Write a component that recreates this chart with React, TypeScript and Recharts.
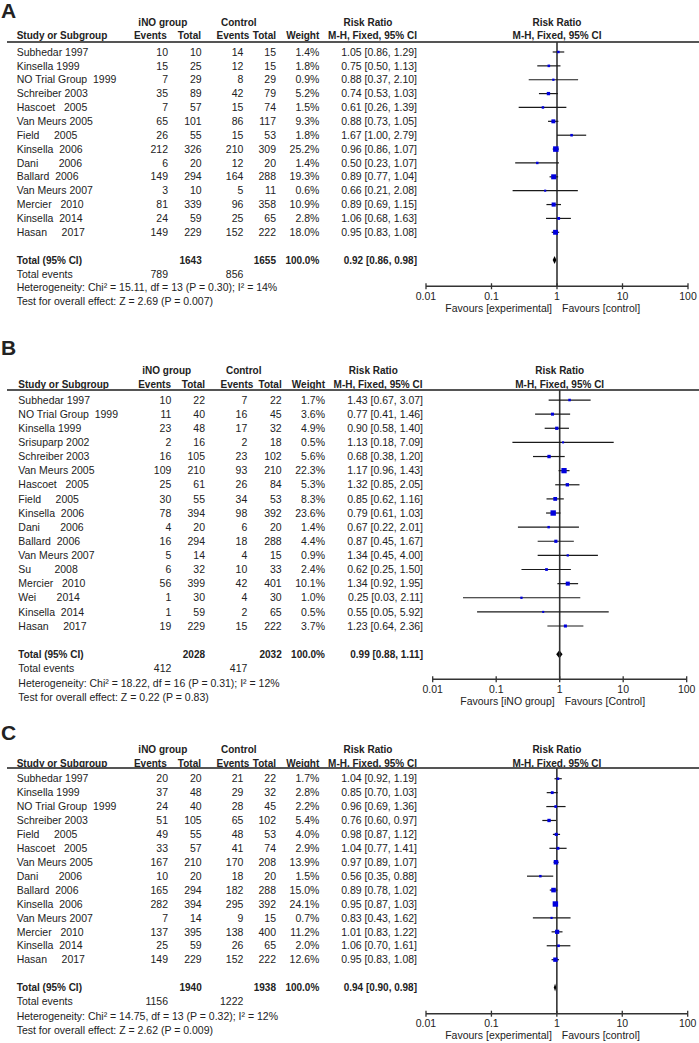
import React from "react";
import { ScatterChart, Scatter, XAxis, YAxis, ReferenceLine, ReferenceArea } from "recharts";

const axisTicks = [0.01, 0.1, 1, 10, 100];

// ---- panel A
const studiesA = ["Subhedar 1997", "Kinsella 1999", "NO Trial Group  1999", "Schreiber 2003", "Hascoet   2005", "Van Meurs 2005", "Field     2005", "Kinsella  2006", "Dani       2006", "Ballard  2006", "Van Meurs 2007", "Mercier   2010", "Kinsella  2014", "Hasan     2017"];
const inoEventsA = [10, 15, 7, 35, 7, 65, 26, 212, 6, 149, 3, 81, 24, 149];
const inoTotalA = [10, 25, 29, 89, 57, 101, 55, 326, 20, 294, 10, 339, 59, 229];
const ctrlEventsA = [14, 12, 8, 42, 15, 86, 15, 210, 12, 164, 5, 96, 25, 152];
const ctrlTotalA = [15, 15, 29, 79, 74, 117, 53, 309, 20, 288, 11, 358, 65, 222];
const weightA = [1.4, 1.8, 0.9, 5.2, 1.5, 9.3, 1.8, 25.2, 1.4, 19.3, 0.6, 10.9, 2.8, 18.0];
const rrA = [1.05, 0.75, 0.88, 0.74, 0.61, 0.88, 1.67, 0.96, 0.5, 0.89, 0.66, 0.89, 1.06, 0.95];
const loA = [0.86, 0.5, 0.37, 0.53, 0.26, 0.73, 1.0, 0.86, 0.23, 0.77, 0.21, 0.69, 0.68, 0.83];
const hiA = [1.29, 1.13, 2.1, 1.03, 1.39, 1.05, 2.79, 1.07, 1.07, 1.04, 2.08, 1.15, 1.63, 1.08];
const totalsA = [1643, 1655];
const totalEventsA = [789, 856];
const pooledA = [0.92, 0.86, 0.98];
const statsA = ["Heterogeneity: Chi\u00b2 = 15.11, df = 13 (P = 0.30); I\u00b2 = 14%", "Test for overall effect: Z = 2.69 (P = 0.007)"];
const favoursA = ["Favours [experimental]", "Favours [control]"];

// ---- panel B
const studiesB = ["Subhedar 1997", "NO Trial Group  1999", "Kinsella 1999", "Srisuparp 2002", "Schreiber 2003", "Van Meurs 2005", "Hascoet   2005", "Field     2005", "Kinsella  2006", "Dani       2006", "Ballard  2006", "Van Meurs 2007", "Su        2008", "Mercier   2010", "Wei       2014", "Kinsella  2014", "Hasan     2017"];
const inoEventsB = [10, 11, 23, 2, 16, 109, 25, 30, 78, 4, 16, 5, 6, 56, 1, 1, 19];
const inoTotalB = [22, 40, 48, 16, 105, 210, 61, 55, 394, 20, 294, 14, 32, 399, 30, 59, 229];
const ctrlEventsB = [7, 16, 17, 2, 23, 93, 26, 34, 98, 6, 18, 4, 10, 42, 4, 2, 15];
const ctrlTotalB = [22, 45, 32, 18, 102, 210, 84, 53, 392, 20, 288, 15, 33, 401, 30, 65, 222];
const weightB = [1.7, 3.6, 4.9, 0.5, 5.6, 22.3, 5.3, 8.3, 23.6, 1.4, 4.4, 0.9, 2.4, 10.1, 1.0, 0.5, 3.7];
const rrB = [1.43, 0.77, 0.9, 1.13, 0.68, 1.17, 1.32, 0.85, 0.79, 0.67, 0.87, 1.34, 0.62, 1.34, 0.25, 0.55, 1.23];
const loB = [0.67, 0.41, 0.58, 0.18, 0.38, 0.96, 0.85, 0.62, 0.61, 0.22, 0.45, 0.45, 0.25, 0.92, 0.03, 0.05, 0.64];
const hiB = [3.07, 1.46, 1.4, 7.09, 1.2, 1.43, 2.05, 1.16, 1.03, 2.01, 1.67, 4.0, 1.5, 1.95, 2.11, 5.92, 2.36];
const totalsB = [2028, 2032];
const totalEventsB = [412, 417];
const pooledB = [0.99, 0.88, 1.11];
const statsB = ["Heterogeneity: Chi\u00b2 = 18.22, df = 16 (P = 0.31); I\u00b2 = 12%", "Test for overall effect: Z = 0.22 (P = 0.83)"];
const favoursB = ["Favours [iNO group]", "Favours [Control]"];

// ---- panel C
const studiesC = ["Subhedar 1997", "Kinsella 1999", "NO Trial Group  1999", "Schreiber 2003", "Field     2005", "Hascoet   2005", "Van Meurs 2005", "Dani       2006", "Ballard  2006", "Kinsella  2006", "Van Meurs 2007", "Mercier   2010", "Kinsella  2014", "Hasan     2017"];
const inoEventsC = [20, 37, 24, 51, 49, 33, 167, 10, 165, 282, 7, 137, 25, 149];
const inoTotalC = [20, 48, 40, 105, 55, 57, 210, 20, 294, 394, 14, 395, 59, 229];
const ctrlEventsC = [21, 29, 28, 65, 48, 41, 170, 18, 182, 295, 9, 138, 26, 152];
const ctrlTotalC = [22, 32, 45, 102, 53, 74, 208, 20, 288, 392, 15, 400, 65, 222];
const weightC = [1.7, 2.8, 2.2, 5.4, 4.0, 2.9, 13.9, 1.5, 15.0, 24.1, 0.7, 11.2, 2.0, 12.6];
const rrC = [1.04, 0.85, 0.96, 0.76, 0.98, 1.04, 0.97, 0.56, 0.89, 0.95, 0.83, 1.01, 1.06, 0.95];
const loC = [0.92, 0.7, 0.69, 0.6, 0.87, 0.77, 0.89, 0.35, 0.78, 0.87, 0.43, 0.83, 0.7, 0.83];
const hiC = [1.19, 1.03, 1.36, 0.97, 1.12, 1.41, 1.07, 0.88, 1.02, 1.03, 1.62, 1.22, 1.61, 1.08];
const totalsC = [1940, 1938];
const totalEventsC = [1156, 1222];
const pooledC = [0.94, 0.9, 0.98];
const statsC = ["Heterogeneity: Chi\u00b2 = 14.75, df = 13 (P = 0.32); I\u00b2 = 12%", "Test for overall effect: Z = 2.62 (P = 0.009)"];
const favoursC = favoursA;

const FONT = "'Liberation Sans', Arial, Helvetica, sans-serif";
const INK = "#222";
const BLUE = "#0000dd";

type Cols = { study: number; ev1: number; tot1: number; ev2: number; tot2: number; wt: number; rr: number };

const colsAC: Cols = { study: 16.7, ev1: 168, tot1: 201.7, ev2: 243.3, tot2: 276, wt: 319.3, rr: 417 };
const headAC = { ino: 162.8, ctrl: 238.8, rr: 368, mh: 372.5, ev1: 166.7, tot1: 201, ev2: 249.3, tot2: 276, wt: 319.3 };

const layouts = [
  { letter: "A", letterY: 11, groupY: 22.7, headY: 36, row0: 51.7, step: 13.87, lineRow: -0.72, axisRow: 16.89, plotLeft: 426, plotRight: 688, cols: colsAC, head: headAC },
  {
    letter: "B", letterY: 347.5, groupY: 370.7, headY: 385, row0: 400, step: 14.125, lineRow: -0.71, axisRow: 19.77, plotLeft: 432.7, plotRight: 686.7,
    cols: { study: 18.3, ev1: 171.3, tot1: 205, ev2: 247.3, tot2: 281.7, wt: 325, rr: 423 },
    head: { ino: 166.7, ctrl: 243.7, rr: 373.3, mh: 378, ev1: 171, tot1: 205, ev2: 253.3, tot2: 281.7, wt: 325 },
  },
  { letter: "C", letterY: 733, groupY: 750, headY: 764, row0: 779, step: 13.92, lineRow: -0.77, axisRow: 16.88, plotLeft: 426, plotRight: 687.7, cols: colsAC, head: headAC },
];

const panels = [
  { studies: studiesA, ev1: inoEventsA, tot1: inoTotalA, ev2: ctrlEventsA, tot2: ctrlTotalA, w: weightA, rr: rrA, lo: loA, hi: hiA, totals: totalsA, events: totalEventsA, pooled: pooledA, stats: statsA, fav: favoursA },
  { studies: studiesB, ev1: inoEventsB, tot1: inoTotalB, ev2: ctrlEventsB, tot2: ctrlTotalB, w: weightB, rr: rrB, lo: loB, hi: hiB, totals: totalsB, events: totalEventsB, pooled: pooledB, stats: statsB, fav: favoursB },
  { studies: studiesC, ev1: inoEventsC, tot1: inoTotalC, ev2: ctrlEventsC, tot2: ctrlTotalC, w: weightC, rr: rrC, lo: loC, hi: hiC, totals: totalsC, events: totalEventsC, pooled: pooledC, stats: statsC, fav: favoursC },
];

const ci = (r: number, l: number, h: number) => `${r.toFixed(2)} [${l.toFixed(2)}, ${h.toFixed(2)}]`;

function Txt({ x, y, children, anchor = "start", bold = false, size }: any) {
  const w = 400;
  const lh = size && size > 14 ? 20 : 14;
  const left = anchor === "start" ? x : anchor === "end" ? x - w : x - w / 2;
  return (
    <div
      style={{
        position: "absolute",
        left,
        top: y - lh / 2,
        width: anchor === "start" ? undefined : w,
        height: lh,
        lineHeight: `${lh}px`,
        textAlign: anchor === "start" ? "left" : anchor === "end" ? "right" : "center",
        fontFamily: FONT,
        fontSize: size ?? (bold ? 10 : 10.5),
        fontWeight: bold ? 700 : 400,
        color: INK,
        whiteSpace: "pre",
      }}
    >
      {children}
    </div>
  );
}

const Square = (props: any) => {
  const { cx, cy, payload } = props;
  if (cx == null || cy == null) return <g />;
  const s = 1.5 + Math.sqrt(payload.w) * 0.8;
  return <rect x={cx - s / 2} y={cy - s / 2} width={s} height={s} fill={BLUE} />;
};

const Diamond = (props: any) => {
  const { x, y, width, height } = props;
  const cx = x + width / 2;
  const cy = y + height / 2;
  return <polygon points={`${x},${cy} ${cx},${y} ${x + width},${cy} ${cx},${y + height}`} fill="#000" />;
};

const AxisTick = (props: any) => {
  const { x, y, payload } = props;
  return (
    <g>
      <line x1={x} x2={x} y1={y - 9} y2={y - 3} stroke="#333" strokeWidth={1.3} />
      <text x={x} y={y} dy="0.71em" textAnchor="middle" fontFamily={FONT} fontSize={10.5} fill={INK}>
        {payload.value}
      </text>
    </g>
  );
};

function Panel({ idx }: { idx: number }) {
  const d = panels[idx];
  const L = layouts[idx];
  const n = d.studies.length;
  const rows = d.studies.map((s, i) => ({ x: d.rr[i], y: i, w: d.w[i] }));
  const chartTop = L.row0 + L.lineRow * L.step;
  const axisY = L.row0 + L.axisRow * L.step;
  const plotH = axisY - chartTop;
  const axisH = 34;
  const mid = (L.plotLeft + L.plotRight) / 2;
  const c = L.cols;
  const rowTicks = [...d.studies.map((_, i) => i), n + 1, n + 2];

  const cell = (key: string, x: number, y: number, s: string, anchor: string, bold = false) => (
    <text key={key} x={x} y={y} dy="0.35em" textAnchor={anchor} fontFamily={FONT} fontSize={bold ? 10 : 10.5} fontWeight={bold ? 700 : 400} fill={INK} xmlSpace="preserve" style={{ whiteSpace: "pre" }}>
      {s}
    </text>
  );

  const rowTick = (props: any) => {
    const { y, payload } = props;
    const v = payload.value;
    if (v < n) {
      return (
        <g>
          {cell("s", c.study, y, d.studies[v], "start")}
          {cell("e1", c.ev1, y, String(d.ev1[v]), "end")}
          {cell("t1", c.tot1, y, String(d.tot1[v]), "end")}
          {cell("e2", c.ev2, y, String(d.ev2[v]), "end")}
          {cell("t2", c.tot2, y, String(d.tot2[v]), "end")}
          {cell("w", c.wt, y, `${d.w[v].toFixed(1)}%`, "end")}
          {cell("r", c.rr, y, ci(d.rr[v], d.lo[v], d.hi[v]), "end")}
        </g>
      );
    }
    if (v === n + 1) {
      return (
        <g>
          {cell("s", c.study, y, "Total (95% CI)", "start", true)}
          {cell("t1", c.tot1, y, String(d.totals[0]), "end", true)}
          {cell("t2", c.tot2, y, String(d.totals[1]), "end", true)}
          {cell("w", c.wt, y, "100.0%", "end", true)}
          {cell("r", c.rr, y, ci(d.pooled[0], d.pooled[1], d.pooled[2]), "end", true)}
        </g>
      );
    }
    return (
      <g>
        {cell("s", c.study, y, "Total events", "start")}
        {cell("e1", c.ev1, y, String(d.events[0]), "end")}
        {cell("e2", c.ev2, y, String(d.events[1]), "end")}
      </g>
    );
  };

  const favLabel = (props: any) => {
    const vb = props.viewBox || {};
    const cx = vb.x + vb.width / 2;
    const ty = vb.y + 22;
    return (
      <g>
        <text x={cx - 5} y={ty} dy="0.35em" textAnchor="end" fontFamily={FONT} fontSize={10.5} fill={INK}>{d.fav[0]}</text>
        <text x={cx + 5} y={ty} dy="0.35em" textAnchor="start" fontFamily={FONT} fontSize={10.5} fill={INK}>{d.fav[1]}</text>
      </g>
    );
  };

  const h = L.head;
  return (
    <>
      <Txt x={1} y={L.letterY} bold size={21}>{L.letter}</Txt>
      <Txt x={h.ino} y={L.groupY} anchor="middle" bold>iNO group</Txt>
      <Txt x={h.ctrl} y={L.groupY} anchor="middle" bold>Control</Txt>
      <Txt x={h.rr} y={L.groupY} anchor="middle" bold>Risk Ratio</Txt>
      <Txt x={mid} y={L.groupY} anchor="middle" bold>Risk Ratio</Txt>
      <Txt x={c.study} y={L.headY} bold>Study or Subgroup</Txt>
      <Txt x={h.ev1} y={L.headY} anchor="end" bold>Events</Txt>
      <Txt x={h.tot1} y={L.headY} anchor="end" bold>Total</Txt>
      <Txt x={h.ev2} y={L.headY} anchor="end" bold>Events</Txt>
      <Txt x={h.tot2} y={L.headY} anchor="end" bold>Total</Txt>
      <Txt x={h.wt} y={L.headY} anchor="end" bold>Weight</Txt>
      <Txt x={h.mh} y={L.headY} anchor="middle" bold>M-H, Fixed, 95% CI</Txt>
      <Txt x={mid} y={L.headY} anchor="middle" bold>M-H, Fixed, 95% CI</Txt>
      <div style={{ position: "absolute", left: 7, top: chartTop - 1, width: 692, height: 0, borderTop: "2px solid #555" }} />
      <Txt x={c.study} y={L.row0 + (n + 3) * L.step}>{d.stats[0]}</Txt>
      <Txt x={c.study} y={L.row0 + (n + 4) * L.step}>{d.stats[1]}</Txt>
      <div style={{ position: "absolute", left: 0, top: chartTop }}>
        <ScatterChart width={699} height={plotH + axisH} margin={{ top: 0, right: 699 - L.plotRight, left: 0, bottom: 0 }}>
          <XAxis
            type="number"
            dataKey="x"
            scale="log"
            domain={[0.01, 100]}
            ticks={axisTicks}
            allowDataOverflow
            interval={0}
            height={axisH}
            tickSize={3}
            tickMargin={3}
            tickLine={false}
            axisLine={{ stroke: "#333", strokeWidth: 1.5 }}
            tick={AxisTick}
            label={{ content: favLabel }}
          />
          <YAxis
            type="number"
            dataKey="y"
            domain={[L.lineRow, L.axisRow]}
            reversed
            allowDataOverflow
            ticks={rowTicks}
            interval={0}
            width={L.plotLeft}
            axisLine={false}
            tickLine={false}
            tick={rowTick}
          />
          <ReferenceLine x={1} stroke="#333" strokeWidth={1.6} />
          {rows.map((r, i) => (
            <ReferenceLine key={i} segment={[{ x: d.lo[i], y: i }, { x: d.hi[i], y: i }]} stroke="#1a1a1a" strokeWidth={1.2} />
          ))}
          <ReferenceArea x1={d.pooled[1]} x2={d.pooled[2]} y1={n + 1 - 0.29} y2={n + 1 + 0.29} shape={Diamond} />
          <Scatter data={rows} shape={Square} isAnimationActive={false} />
        </ScatterChart>
      </div>
    </>
  );
}

export default function App() {
  return (
    <div style={{ position: "absolute", left: 0, top: 0, width: 699, height: 1043, background: "#fff", overflow: "hidden" }}>
      <Panel idx={0} />
      <Panel idx={1} />
      <Panel idx={2} />
    </div>
  );
}
